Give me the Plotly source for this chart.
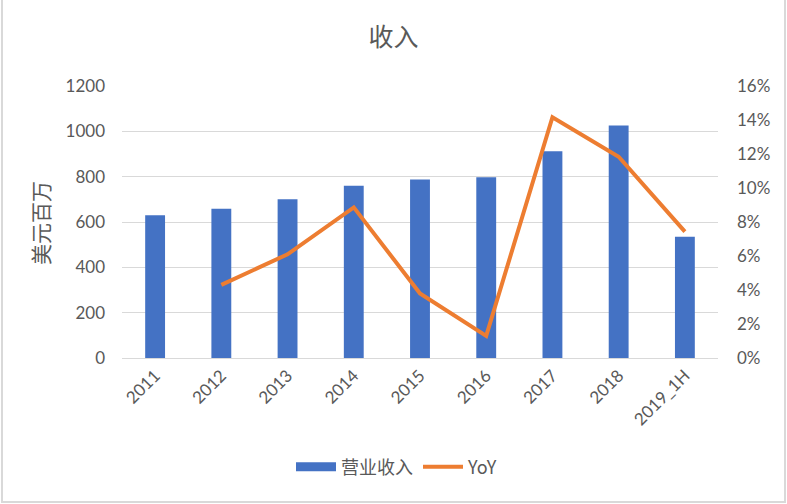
import plotly.graph_objects as go

categories = ["2011", "2012", "2013", "2014", "2015", "2016", "2017", "2018", "2019_1H"]
revenue = [630, 659, 700, 760, 788, 797, 912, 1026, 535]
yoy = [None, 0.043, 0.061, 0.0886, 0.038, 0.013, 0.1416, 0.1184, 0.0743]

GRAY = "#595959"
FONT = "Lato, Noto Sans CJK SC, sans-serif"
BLUE = "#4472C4"
ORANGE = "#ED7D31"

fig = go.Figure()
fig.add_trace(go.Bar(x=categories, y=revenue, name="营业收入", showlegend=False,
                     marker=dict(color=BLUE, line=dict(width=0)), yaxis="y"))
fig.add_trace(go.Scatter(x=categories, y=yoy, name="YoY", mode="lines", showlegend=False,
                         line=dict(color=ORANGE, width=4), yaxis="y2"))
# legend entries (wide blue swatch like the reference)
fig.add_trace(go.Scatter(x=[None], y=[None], name="营业收入", mode="lines",
                         line=dict(color=BLUE, width=9), yaxis="y"))
fig.add_trace(go.Scatter(x=[None], y=[None], name="YoY", mode="lines",
                         line=dict(color=ORANGE, width=4), yaxis="y2"))

fig.update_layout(
    width=787, height=504,
    margin=dict(l=122, r=69, t=86, b=146, autoexpand=False),
    paper_bgcolor="white", plot_bgcolor="white",
    font=dict(family=FONT, color=GRAY, size=17),
    bargap=0.7,
    title=dict(text="收入", x=0.5, xanchor="center", y=1 - 37 / 504, yanchor="middle",
               font=dict(family="Noto Sans CJK SC", size=25, color=GRAY)),
    xaxis=dict(type="category", tickangle=-45, showgrid=False, showline=True,
               linecolor="#d9d9d9", linewidth=1, ticks="",
               tickfont=dict(size=17, color=GRAY)),
    yaxis=dict(range=[0, 1200], dtick=200, showgrid=True, gridcolor="#d9d9d9",
               gridwidth=1, zeroline=False, showline=False, ticks="",
               tickfont=dict(size=17, color=GRAY), ticklabelstandoff=16),
    yaxis2=dict(range=[0, 0.16], dtick=0.02, tickformat=".0%", overlaying="y",
                side="right", showgrid=False, zeroline=False, showline=False,
                ticks="", tickfont=dict(size=17, color=GRAY), ticklabelstandoff=18),
    legend=dict(orientation="h", x=(397 - 122) / 596, xanchor="center", y=(358 - 467) / 272,
                yanchor="middle", font=dict(family="Noto Sans CJK SC, Lato", size=18, color=GRAY),
                itemwidth=40, traceorder="normal"),
    showlegend=True,
)

fig.add_annotation(text="美元百万", xref="paper", yref="paper",
                   x=(40 - 122) / 596, y=(358 - 223) / 272, showarrow=False,
                   textangle=-90, font=dict(family="Noto Sans CJK SC", size=21, color=GRAY),
                   xanchor="center", yanchor="middle")

fig.add_shape(type="rect", xref="paper", yref="paper",
              x0=-120 / 596, x1=(785 - 122) / 596, y0=-(502 - 358) / 272, y1=(358 - 0) / 272 + 0.5,
              line=dict(color="#d9d9d9", width=2), layer="below")

fig.write_html("out.html")
